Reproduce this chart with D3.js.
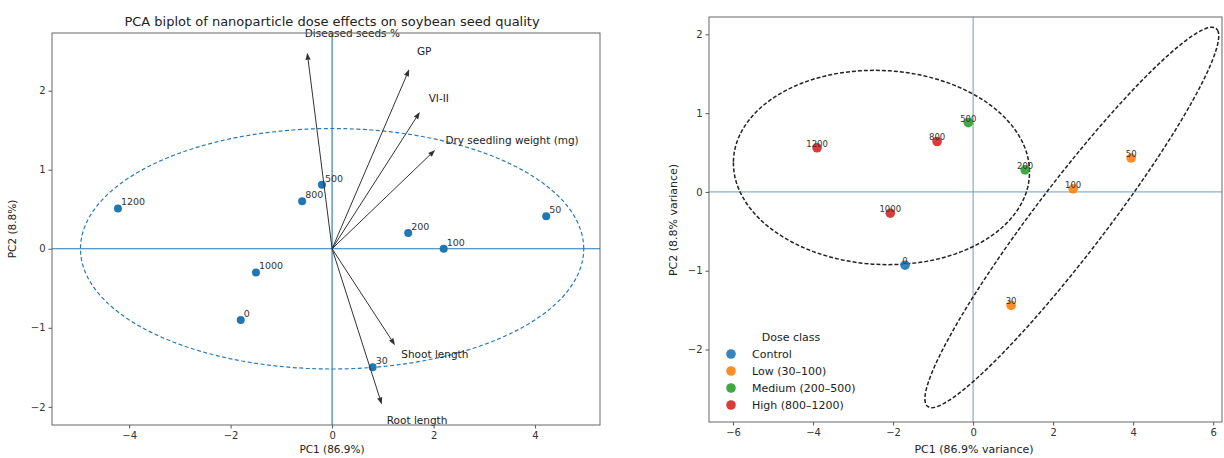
<!DOCTYPE html>
<html>
<head>
<meta charset="utf-8">
<script src="https://cdn.jsdelivr.net/npm/d3@7"></script>
<style>
  body { margin: 0; background: #fff; }
  text { font-family: "DejaVu Sans", sans-serif; fill: #222; }
  .tick text { font-size: 10px; fill: #333; }
  .tick line { stroke: #555; }
  .domain { stroke: none; }
</style>
</head>
<body>
<svg id="chart" width="1224" height="458"></svg>
<script>
// samples (dose, mg/L)
var doses = ["0", "30", "50", "100", "200", "500", "800", "1000", "1200"];
var doseClass = ["Control", "Low (30–100)", "Low (30–100)", "Low (30–100)", "Medium (200–500)",
  "Medium (200–500)", "High (800–1200)", "High (800–1200)", "High (800–1200)"];

// left biplot scores
var biPC1 = [-1.8, 0.8, 4.22, 2.2, 1.5, -0.2, -0.59, -1.5, -4.22];
var biPC2 = [-0.9, -1.5, 0.41, 0.0, 0.2, 0.81, 0.6, -0.3, 0.51];

// loadings (arrows)
var variables = ["GP", "VI-II", "Dry seedling weight (mg)", "Diseased seeds %", "Shoot length", "Root length"];
var loadPC1 = [1.52, 1.73, 2.03, -0.49, 1.24, 0.98];
var loadPC2 = [2.27, 1.73, 1.25, 2.48, -1.22, -1.97];

// right score plot
var scPC1 = [-1.7, 0.95, 3.95, 2.5, 1.3, -0.12, -0.9, -2.07, -3.9];
var scPC2 = [-0.93, -1.44, 0.43, 0.04, 0.28, 0.88, 0.64, -0.27, 0.56];

var classes = ["Control", "Low (30–100)", "Medium (200–500)", "High (800–1200)"];
var classColors = ["#1f77b4", "#ff7f0e", "#2ca02c", "#d62728"];

var ticksLeftX = [-4, -2, 0, 2, 4];
var ticksLeftY = [-2, -1, 0, 1, 2];
var ticksRightX = [-6, -4, -2, 0, 2, 4, 6];
var ticksRightY = [-2, -1, 0, 1, 2];

var svg = d3.select("#chart");

function frame(g, x, y, tx, ty) {
  var x0 = x.range()[0], x1 = x.range()[1], y0 = y.range()[1], y1 = y.range()[0];
  g.append("g").attr("transform", "translate(0," + y1 + ")")
    .call(d3.axisBottom(x).tickValues(tx).tickSize(3.5).tickPadding(3).tickFormat(d3.format("d")))
  g.append("g").attr("transform", "translate(" + x0 + ",0)")
    .call(d3.axisLeft(y).tickValues(ty).tickSize(3.5).tickPadding(3).tickFormat(d3.format("d")))
  g.selectAll(".tick text").text(function(d){ return d < 0 ? "\u2212" + Math.abs(d) : d })
  g.append("rect")
    .attr("x", x0).attr("y", y0)
    .attr("width", x1 - x0).attr("height", y1 - y0)
    .attr("fill", "none").attr("stroke", "#666").attr("stroke-width", 1)
}

function ellipsePath(x, y, cx, cy, a, b, phi) {
  var pts = d3.range(0, 361, 3).map(function(deg) {
    var t = deg * Math.PI / 180;
    return [x(cx + a * Math.cos(t) * Math.cos(phi) - b * Math.sin(t) * Math.sin(phi)),
            y(cy + a * Math.cos(t) * Math.sin(phi) + b * Math.sin(t) * Math.cos(phi))];
  });
  return d3.line()(pts);
}

function sd(v) {
  var m = d3.mean(v);
  return Math.sqrt(d3.sum(v, function(d){ return (d - m) * (d - m) }) / (v.length - 1));
}

// ---------- left: biplot ----------
(function() {
  var x = d3.scaleLinear().domain([-5.52, 5.28]).range([52, 600]);
  var y = d3.scaleLinear().domain([-2.23, 2.73]).range([425, 33]);
  var g = svg.append("g");

  // zero lines
  g.append("line").attr("x1", x.range()[0]).attr("x2", x.range()[1]).attr("y1", y(0)).attr("y2", y(0))
    .attr("stroke", "#1f77b4").attr("stroke-width", 1.1);
  g.append("line").attr("x1", x(0)).attr("x2", x(0)).attr("y1", y.range()[0]).attr("y2", y.range()[1])
    .attr("stroke", "#1f77b4").attr("stroke-width", 1.1);

  // 2-sd ellipse of scores
  g.append("path")
    .attr("d", ellipsePath(x, y, 0, 0, 2 * sd(biPC1), 2 * sd(biPC2), 0))
    .attr("fill", "none").attr("stroke", "#2a7ab8").attr("stroke-width", 1.2)
    .attr("stroke-dasharray", "4,2.5");

  // points
  g.selectAll(".pt").data(doses).enter().append("circle")
    .attr("cx", function(d, i){ return x(biPC1[i]) })
    .attr("cy", function(d, i){ return y(biPC2[i]) })
    .attr("r", 4).attr("fill", "#1f77b4");
  g.selectAll(".ptlab").data(doses).enter().append("text")
    .attr("x", function(d, i){ return x(biPC1[i]) + 3 })
    .attr("y", function(d, i){ return y(biPC2[i]) - 3 })
    .style("font-size", "9.5px").style("fill", "#333")
    .text(function(d){ return d });

  // loading arrows
  variables.forEach(function(v, i) {
    var x0 = x(0), y0 = y(0), x1 = x(loadPC1[i]), y1 = y(loadPC2[i]);
    var ang = Math.atan2(y1 - y0, x1 - x0);
    var hl = 7, hw = 2.6;
    var bx = x1 - hl * Math.cos(ang), by = y1 - hl * Math.sin(ang);
    g.append("line").attr("x1", x0).attr("y1", y0).attr("x2", bx).attr("y2", by)
      .attr("stroke", "#333").attr("stroke-width", 1);
    g.append("path")
      .attr("d", "M" + x1 + "," + y1 +
        "L" + (bx + hw * Math.sin(ang)) + "," + (by - hw * Math.cos(ang)) +
        "L" + (bx - hw * Math.sin(ang)) + "," + (by + hw * Math.cos(ang)) + "Z")
      .attr("fill", "#333");
    g.append("text")
      .attr("x", x(loadPC1[i] * 1.1)).attr("y", y(loadPC2[i] * 1.1))
      .attr("dy", "0.35em")
      .style("font-size", "10.5px")
      .text(v);
  });

  frame(g, x, y, ticksLeftX, ticksLeftY);

  g.append("text").attr("x", 332).attr("y", 26).attr("text-anchor", "middle")
    .style("font-size", "13px").text("PCA biplot of nanoparticle dose effects on soybean seed quality");
  g.append("text").attr("x", 332).attr("y", 453).attr("text-anchor", "middle")
    .style("font-size", "10.5px").text("PC1 (86.9%)");
  g.append("text").attr("transform", "translate(16,229) rotate(-90)").attr("text-anchor", "middle")
    .style("font-size", "10.5px").text("PC2 (8.8%)");
})();

// ---------- right: scores by dose class ----------
(function() {
  var x = d3.scaleLinear().domain([-6.6, 6.22]).range([709, 1222]);
  var y = d3.scaleLinear().domain([-2.92, 2.22]).range([422, 17]);
  var color = d3.scaleOrdinal().domain(classes).range(classColors);
  var g = svg.append("g");

  g.append("line").attr("x1", x.range()[0]).attr("x2", x.range()[1]).attr("y1", y(0)).attr("y2", y(0))
    .attr("stroke", "#5b93b0").attr("stroke-width", 0.9);
  g.append("line").attr("x1", x(0)).attr("x2", x(0)).attr("y1", y.range()[0]).attr("y2", y.range()[1])
    .attr("stroke", "#5b93b0").attr("stroke-width", 0.9);

  // 95% confidence ellipses for classes with at least 3 samples
  var k = Math.sqrt(5.991);
  classes.forEach(function(c) {
    var idx = doseClass.map(function(d, i){ return d === c ? i : -1 }).filter(function(i){ return i >= 0 });
    if (idx.length < 3) return;
    var xs = idx.map(function(i){ return scPC1[i] }), ys = idx.map(function(i){ return scPC2[i] });
    var mx = d3.mean(xs), my = d3.mean(ys), n = xs.length;
    var sxx = d3.sum(xs, function(d){ return (d - mx) * (d - mx) }) / (n - 1);
    var syy = d3.sum(ys, function(d){ return (d - my) * (d - my) }) / (n - 1);
    var sxy = d3.sum(xs, function(d, j){ return (d - mx) * (ys[j] - my) }) / (n - 1);
    var tr = sxx + syy, det = sxx * syy - sxy * sxy;
    var l1 = tr / 2 + Math.sqrt(tr * tr / 4 - det), l2 = tr / 2 - Math.sqrt(tr * tr / 4 - det);
    var phi = Math.atan2(l1 - sxx, sxy);
    g.append("path")
      .attr("d", ellipsePath(x, y, mx, my, k * Math.sqrt(l1), k * Math.sqrt(l2), phi))
      .attr("fill", "none").attr("stroke", "#222").attr("stroke-width", 1.5)
      .attr("stroke-dasharray", "4,2");
  });

  g.selectAll(".pt").data(doses).enter().append("circle")
    .attr("cx", function(d, i){ return x(scPC1[i]) })
    .attr("cy", function(d, i){ return y(scPC2[i]) })
    .attr("r", 4.8)
    .attr("fill", function(d, i){ return color(doseClass[i]) })
    .attr("opacity", 0.9);
  g.selectAll(".ptlab").data(doses).enter().append("text")
    .attr("x", function(d, i){ return x(scPC1[i]) })
    .attr("y", function(d, i){ return y(scPC2[i]) - 1 })
    .attr("text-anchor", "middle")
    .style("font-size", "8.5px").style("fill", "#333")
    .text(function(d){ return d });

  frame(g, x, y, ticksRightX, ticksRightY);

  g.append("text").attr("x", 974).attr("y", 453).attr("text-anchor", "middle")
    .style("font-size", "11px").text("PC1 (86.9% variance)");
  g.append("text").attr("transform", "translate(677,220) rotate(-90)").attr("text-anchor", "middle")
    .style("font-size", "11px").text("PC2 (8.8% variance)");

  // legend
  var lg = g.append("g").attr("transform", "translate(731,337)");
  lg.append("text").attr("x", 60).attr("y", 0).attr("dy", "0.35em").attr("text-anchor", "middle")
    .style("font-size", "11px").text("Dose class");
  classes.forEach(function(c, i) {
    lg.append("circle").attr("cx", 0).attr("cy", 17 + i * 17).attr("r", 4.8)
      .attr("fill", classColors[i]).attr("opacity", 0.9);
    lg.append("text").attr("x", 21).attr("y", 17 + i * 17).attr("dy", "0.35em")
      .style("font-size", "11px").text(c);
  });
})();
</script>
</body>
</html>
